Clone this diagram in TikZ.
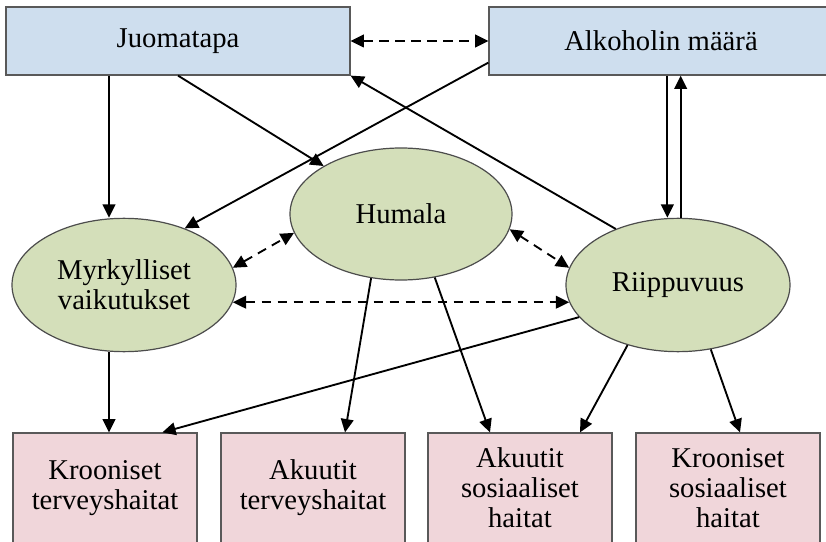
\documentclass[tikz,border=0pt]{standalone}
\usepackage{fontspec}
\setmainfont{Liberation Serif}
\usetikzlibrary{arrows.meta,shapes.geometric}
\newcommand{\nodeFont}{\fontsize{21.5}{22.5}\selectfont}
\definecolor{topBlue}{RGB}{206,222,238}
\definecolor{midGreen}{RGB}{212,223,186}
\definecolor{lowPink}{RGB}{240,214,218}

\begin{document}
\begin{tikzpicture}[x=0.75pt, y=-0.75pt,
    topbox/.style={draw=gray!70!black, fill=topBlue, line width=0.9pt, inner sep=0pt,
      minimum width=258pt, minimum height=51pt, font=\nodeFont},
    midell/.style={ellipse, draw=gray!60!black, fill=midGreen, line width=0.9pt, inner sep=0pt,
      minimum width=168pt, minimum height=100pt, align=center, font=\nodeFont},
    lowbox/.style={draw=gray!70!black, fill=lowPink, line width=0.9pt, inner sep=0pt,
      minimum width=138pt, minimum height=82.5pt, align=center, font=\nodeFont},
    arr/.style={-{Triangle[length=10pt,width=9.5pt]}, line width=1.4pt},
    darr/.style={{Triangle[length=10pt,width=9.5pt]}-{Triangle[length=10pt,width=9.5pt]},
      line width=1.4pt, dash pattern=on 7pt off 5pt}]
   \useasboundingbox (0,0) rectangle (826,542);
   \clip (0,0) rectangle (826,542);

   % top row
   \node[topbox] (juoma) at (178,41) {Juomatapa};
   \node[topbox] (alko) at (661,41) {Alkoholin määrä};

   % middle row
   \node[midell] (myrk) at (124,285) {Myrkylliset\\vaikutukset};
   \node[midell, minimum width=166.5pt, minimum height=99pt] (humala) at (401,214) {Humala};
   \node[midell] (riipp) at (678,285) {Riippuvuus};

   % bottom row
   \node[lowbox] (kterv) at (105,488) {Krooniset\\terveyshaitat};
   \node[lowbox] (aterv) at (313,488) {Akuutit\\terveyshaitat};
   \node[lowbox] (asos) at (520,488) {Akuutit\\sosiaaliset\\haitat};
   \node[lowbox] (ksos) at (728,488) {Krooniset\\sosiaaliset\\haitat};

   % dashed two-way links
   \draw[darr] (juoma.east) -- (alko.west);
   \draw[darr] (myrk.9) -- (humala.190);
   \draw[darr] (humala.-8) -- (riipp.171);
   \draw[darr] (myrk.-9) -- (riipp.189);

   % from the top row
   \draw[arr] ([xshift=-11.25pt]myrk.north |- juoma.south) -- ([xshift=-11.25pt]myrk.north);
   \draw[arr] (juoma.south) -- (humala);
   \draw[arr] ([yshift=9.75pt]alko.south west) -- (myrk.43);
   \draw[arr] ([xshift=-8pt]riipp.north |- alko.south) -- ([xshift=-8pt]riipp.north);
   \draw[arr] ([xshift=2pt]riipp.north) -- ([xshift=2pt]riipp.north |- alko.south);
   \draw[arr] (riipp.138) -- (juoma.south east);

   % to the bottom row
   \draw[arr] ([xshift=-11.25pt]myrk.south) -- ([xshift=-11.25pt]myrk.south |- kterv.north);
   \draw[arr] (riipp.198) -- ([xshift=43pt]kterv.north);
   \draw[arr] (humala.245) -- ([xshift=24pt]aterv.north);
   \draw[arr] (humala.298) -- ([xshift=-22.5pt]asos.north);
   \draw[arr] (riipp.230) -- ([xshift=45pt]asos.north);
   \draw[arr] (riipp.297) -- ([xshift=9pt]ksos.north);
\end{tikzpicture}
\end{document}
